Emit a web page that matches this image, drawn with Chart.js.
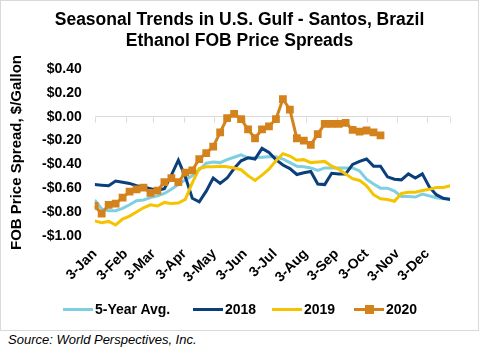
<!DOCTYPE html>
<html>
<head>
<meta charset="utf-8">
<script src="https://cdn.jsdelivr.net/npm/chart.js@4.4.1/dist/chart.umd.min.js"></script>
<style>
  body { margin: 0; background: #fff; font-family: 'Liberation Sans', Arial, sans-serif; }
  #frame { position: absolute; left: 0; top: 0; width: 477px; height: 329px; border: 1px solid #d9d9d9; }
  #chartWrap { position: absolute; left: 0; top: 0; width: 479px; height: 330px; }
  #title { position: absolute; left: 0; top: 9px; width: 479px; text-align: center; font-weight: bold; font-size: 17.5px; line-height: 21px; color: #000; }
  #legend { position: absolute; top: 300px; left: 0; width: 479px; height: 18px; font-weight: bold; font-size: 14px; color: #000; }
  .item { position: absolute; top: 0; height: 18px; line-height: 18px; }
  .swatch { position: absolute; top: 8px; width: 30px; height: 3px; }
  .sq { position: absolute; top: 5px; width: 9px; height: 9px; }
  #source { position: absolute; left: 8px; top: 332px; font-style: italic; font-size: 13px; color: #000; }
</style>
</head>
<body>
<div id="frame"></div>
<div id="chartWrap"><canvas id="myChart" width="479" height="330"></canvas></div>
<div id="title">Seasonal Trends in U.S. Gulf - Santos, Brazil<br>Ethanol FOB Price Spreads</div>
<div id="legend"></div>
<div id="source">Source: World Perspectives, Inc.</div>
<script>
'use strict';

// weekly points, x = days since 3-Jan
const weekDays = [];
for (let i = 0; i < 52; i++) {
  weekDays.push(i * 7);
}

// month ticks (days since 3-Jan) and their labels
const monthDays = [0, 31, 59, 90, 120, 151, 181, 212, 243, 273, 304, 334];
const monthLabels = ['3-Jan', '3-Feb', '3-Mar', '3-Apr', '3-May', '3-Jun', '3-Jul', '3-Aug', '3-Sep', '3-Oct', '3-Nov', '3-Dec'];

const yTicks = [0.4, 0.2, 0, -0.2, -0.4, -0.6, -0.8, -1.0];

const avg5 = [-0.70, -0.775, -0.79, -0.79, -0.77, -0.74, -0.705, -0.70, -0.68, -0.665,
  -0.645, -0.61, -0.57, -0.53, -0.495, -0.445, -0.39, -0.38, -0.385, -0.36,
  -0.34, -0.32, -0.345, -0.345, -0.34, -0.335, -0.335, -0.355, -0.385, -0.415,
  -0.42, -0.43, -0.45, -0.43, -0.43, -0.43, -0.43, -0.43, -0.455, -0.525,
  -0.565, -0.60, -0.60, -0.625, -0.67, -0.67, -0.675, -0.65, -0.665, -0.68,
  -0.69, -0.69];

const y2018 = [-0.57, -0.575, -0.58, -0.54, -0.55, -0.56, -0.58, -0.59, -0.605, -0.62,
  -0.605, -0.49, -0.365, -0.505, -0.685, -0.715, -0.625, -0.515, -0.56, -0.515,
  -0.435, -0.37, -0.345, -0.355, -0.265, -0.30, -0.36, -0.405, -0.435, -0.485,
  -0.47, -0.46, -0.565, -0.57, -0.475, -0.48, -0.48, -0.40, -0.375, -0.355,
  -0.415, -0.415, -0.505, -0.525, -0.53, -0.48, -0.515, -0.48, -0.59, -0.655,
  -0.685, -0.695];

const y2019 = [-0.875, -0.89, -0.88, -0.91, -0.86, -0.835, -0.80, -0.765, -0.74, -0.75,
  -0.72, -0.73, -0.725, -0.695, -0.555, -0.435, -0.42, -0.42, -0.415, -0.42,
  -0.43, -0.445, -0.495, -0.535, -0.49, -0.44, -0.37, -0.31, -0.33, -0.365,
  -0.36, -0.385, -0.38, -0.375, -0.415, -0.44, -0.48, -0.52, -0.535, -0.58,
  -0.655, -0.69, -0.695, -0.71, -0.645, -0.635, -0.635, -0.62, -0.61, -0.595,
  -0.595, -0.58];

const y2020 = [-0.75, -0.815, -0.74, -0.73, -0.68, -0.63, -0.61, -0.595, -0.64, -0.62,
  -0.55, -0.515, -0.55, -0.47, -0.45, -0.355, -0.305, -0.25, -0.13, -0.01,
  0.025, -0.02, -0.105, -0.18, -0.105, -0.08, -0.02, 0.15, 0.06, -0.18,
  -0.20, -0.235, -0.145, -0.06, -0.06, -0.06, -0.05, -0.11, -0.125, -0.115,
  -0.13, -0.155];

const seriesNames = ['5-Year Avg.', '2018', '2019', '2020'];
const seriesColors = ['#7fcfe2', '#0b3f7c', '#f5c300', '#d4821c'];

const FONT = "'Liberation Sans', Arial, sans-serif";

// little tick marks on the zero line
const zeroTicks = {
  id: 'zeroTicks',
  beforeDatasetsDraw(chart) {
    const ctx = chart.ctx;
    const xs = chart.scales.x;
    const y0 = Math.round(chart.scales.y.getPixelForValue(0)) + 0.5;
    ctx.save();
    ctx.strokeStyle = '#d9d9d9';
    ctx.lineWidth = 1;
    ctx.beginPath();
    for (let d of monthDays) {
      const px = Math.round(xs.getPixelForValue(d)) + 0.5;
      ctx.moveTo(px, y0);
      ctx.lineTo(px, y0 + 5);
    }
    const pEnd = Math.round(xs.getPixelForValue(weekDays[weekDays.length - 1])) + 0.5;
    ctx.moveTo(pEnd, y0);
    ctx.lineTo(pEnd, y0 + 5);
    ctx.stroke();
    ctx.restore();
  }
};

const ctx = document.getElementById('myChart').getContext('2d');
const myChart = new Chart(ctx, {
  type: 'line',
  data: {
    labels: weekDays,
    datasets: [
      { label: seriesNames[0], data: avg5, borderColor: seriesColors[0], borderWidth: 3, pointRadius: 0, tension: 0 },
      { label: seriesNames[1], data: y2018, borderColor: seriesColors[1], borderWidth: 3, pointRadius: 0, tension: 0 },
      { label: seriesNames[2], data: y2019, borderColor: seriesColors[2], borderWidth: 3, pointRadius: 0, tension: 0 },
      { label: seriesNames[3], data: y2020, borderColor: seriesColors[3], backgroundColor: seriesColors[3],
        borderWidth: 3, pointStyle: 'rect', pointRadius: 5.5, pointBorderWidth: 0, tension: 0 }
    ].reverse()
  },
  options: {
    responsive: false,
    animation: false,
    events: [],
    layout: { padding: { top: 69.3, right: 28.8, bottom: 0, left: 0 } },
    plugins: {
      legend: { display: false },
      title: { display: false },
      tooltip: { enabled: false }
    },
    scales: {
      x: {
        type: 'linear',
        min: 0,
        max: weekDays[weekDays.length - 1],
        afterBuildTicks(scale) {
          scale.ticks = monthDays.map(v => ({ value: v }));
        },
        afterFit(scale) {
          scale.height = 94.3;
        },
        grid: { display: false, drawTicks: false },
        border: { display: false },
        ticks: {
          autoSkip: false,
          minRotation: 45,
          maxRotation: 45,
          padding: 10,
          color: '#000',
          font: { family: FONT, size: 14, weight: 'bold' },
          callback(value) {
            const i = monthDays.indexOf(value);
            return i >= 0 ? monthLabels[i] : '';
          }
        }
      },
      y: {
        min: -1.0,
        max: 0.4,
        afterBuildTicks(scale) {
          scale.ticks = yTicks.map(v => ({ value: v }));
        },
        afterFit(scale) {
          scale.width = 94.7;
        },
        grid: {
          drawTicks: false,
          color: c => (c.tick && Math.abs(c.tick.value) < 1e-9 ? '#d9d9d9' : 'rgba(0,0,0,0)'),
          lineWidth: 1
        },
        border: { display: false },
        ticks: {
          padding: 13,
          color: '#000',
          font: { family: FONT, size: 14, weight: 'bold' },
          callback(value) {
            const s = '$' + Math.abs(value).toFixed(2);
            return value < -1e-9 ? '-' + s : s;
          }
        },
        title: {
          display: true,
          text: 'FOB Price Spread, $/Gallon',
          color: '#000',
          padding: { top: 8, bottom: 0 },
          font: { family: FONT, size: 15, weight: 'bold' }
        }
      }
    }
  },
  plugins: [zeroTicks]
});

// legend
const legendElem = document.getElementById('legend');
const legendX = [63, 193, 272, 354];
for (let i = 0; i < seriesNames.length; i++) {
  const sw = document.createElement('div');
  sw.className = 'swatch';
  sw.style.left = legendX[i] + 'px';
  sw.style.background = seriesColors[i];
  legendElem.appendChild(sw);
  if (i === 3) {
    const sq = document.createElement('div');
    sq.className = 'sq';
    sq.style.left = (legendX[i] + 11) + 'px';
    sq.style.background = seriesColors[i];
    legendElem.appendChild(sq);
  }
  const txt = document.createElement('div');
  txt.className = 'item';
  txt.style.left = (legendX[i] + 32) + 'px';
  txt.textContent = seriesNames[i];
  legendElem.appendChild(txt);
}
</script>
</body>
</html>
